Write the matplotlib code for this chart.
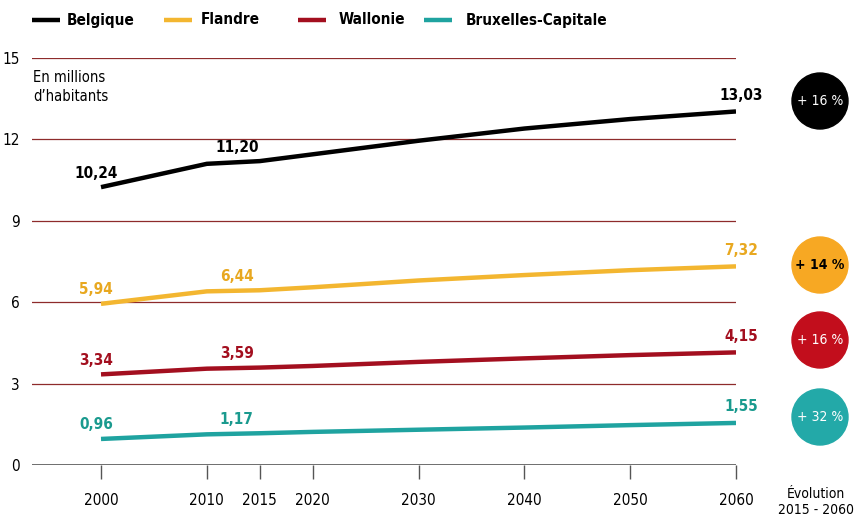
import matplotlib
matplotlib.use("Agg")
import matplotlib.pyplot as plt
from matplotlib.patches import Circle
from matplotlib.lines import Line2D

plt.rcParams["font.family"] = ["DejaVu Sans"]
plt.rcParams["font.stretch"] = "condensed"

years = [2000, 2010, 2015, 2020, 2030, 2040, 2050, 2060]
belgique = [10.24, 11.10, 11.20, 11.45, 11.95, 12.40, 12.75, 13.03]
flandre = [5.94, 6.40, 6.44, 6.55, 6.80, 7.00, 7.18, 7.32]
wallonie = [3.34, 3.55, 3.59, 3.65, 3.80, 3.93, 4.05, 4.15]
bruxelles = [0.96, 1.13, 1.17, 1.22, 1.30, 1.38, 1.47, 1.55]

names = ["Belgique", "Flandre", "Wallonie", "Bruxelles-Capitale"]
series = [belgique, flandre, wallonie, bruxelles]
colors = ["#000000", "#f3b630", "#a30f1f", "#1fa3a0"]
text_colors = ["#000000", "#e8a820", "#a30f1f", "#1a9a8e"]
circle_colors = ["#000000", "#f7a823", "#c20e1c", "#23a9a8"]
circle_text = ["+ 16 %", "+ 14 %", "+ 16 %", "+ 32 %"]
circle_text_colors = ["white", "black", "white", "white"]
xticks = [2000, 2010, 2015, 2020, 2030, 2040, 2050, 2060]
yticks = [0, 3, 6, 9, 12, 15]

fig = plt.figure(figsize=(8.56, 5.23), dpi=100)
ax = fig.add_axes([32 / 856, 1 - 465 / 523, (736 - 32) / 856, (465 - 58) / 523])

for name, vals, c in zip(names, series, colors):
    ax.plot(years, vals, color=c, lw=3.2, label=name, solid_capstyle="butt", zorder=3)

# value labels at 2000, 2015, 2060
offsets = {2000: (-5, 14), 2015: (-23, 14), 2060: (5, 16)}
for vals, tc in zip(series, text_colors):
    for yr in (2000, 2015, 2060):
        v = vals[years.index(yr)]
        dx, dy = offsets[yr]
        ax.annotate(f"{v:.2f}".replace(".", ","), (yr, v), xytext=(dx, dy),
                    textcoords="offset pixels", ha="center", va="center",
                    fontsize=11, fontweight="bold", color=tc, zorder=4)

ax.set_xlim(2000 - 69 / 10.583, 2060)
ax.set_ylim(0, 15)
for y in yticks[1:]:
    ax.axhline(y, color="#8e2b2b", lw=0.9, zorder=1)
ax.axhline(0, color="#555555", lw=1.2, zorder=1)

for s in ax.spines.values():
    s.set_visible(False)
ax.set_xticks(xticks)
ax.set_xticklabels([str(x) for x in xticks])
ax.set_yticks(yticks)
ax.tick_params(axis="x", length=10, width=1, color="#555555", pad=10, labelsize=11)
ax.tick_params(axis="y", length=0, pad=9, labelsize=11)

ax.text(0.002, 14.55, "En millions\nd\u2019habitants", transform=ax.get_yaxis_transform(),
        fontsize=10.5, va="top", ha="left", linespacing=1.35)

# legend drawn by hand (uneven spacing in the original)
line_x = [32, 164, 298, 424]
text_x = [67, 201, 339, 466]
for lx, tx, name, c in zip(line_x, text_x, names, colors):
    fig.add_artist(Line2D([lx / 856, (lx + 28) / 856], [1 - 20 / 523] * 2, color=c, lw=3.2,
                          solid_capstyle="butt"))
    fig.text(tx / 856, 1 - 20 / 523, name, ha="left", va="center", fontsize=11,
             fontweight="bold")

centers = [101, 265, 340, 417]
for cy, cc, t, tc in zip(centers, circle_colors, circle_text, circle_text_colors):
    fig.add_artist(Circle((8.20, (523 - cy) / 100), 0.28, transform=fig.dpi_scale_trans,
                          color=cc, zorder=5))
    fig.text(820 / 856, 1 - cy / 523, t, ha="center", va="center", color=tc,
             fontsize=10, fontweight="bold" if tc == "black" else "medium", zorder=6)

fig.text(816 / 856, 1 - 502 / 523, "\u00c9volution\n2015 - 2060", ha="center", va="center",
         fontsize=10, linespacing=1.25)

fig.savefig("out.png", dpi=100, facecolor="white")
